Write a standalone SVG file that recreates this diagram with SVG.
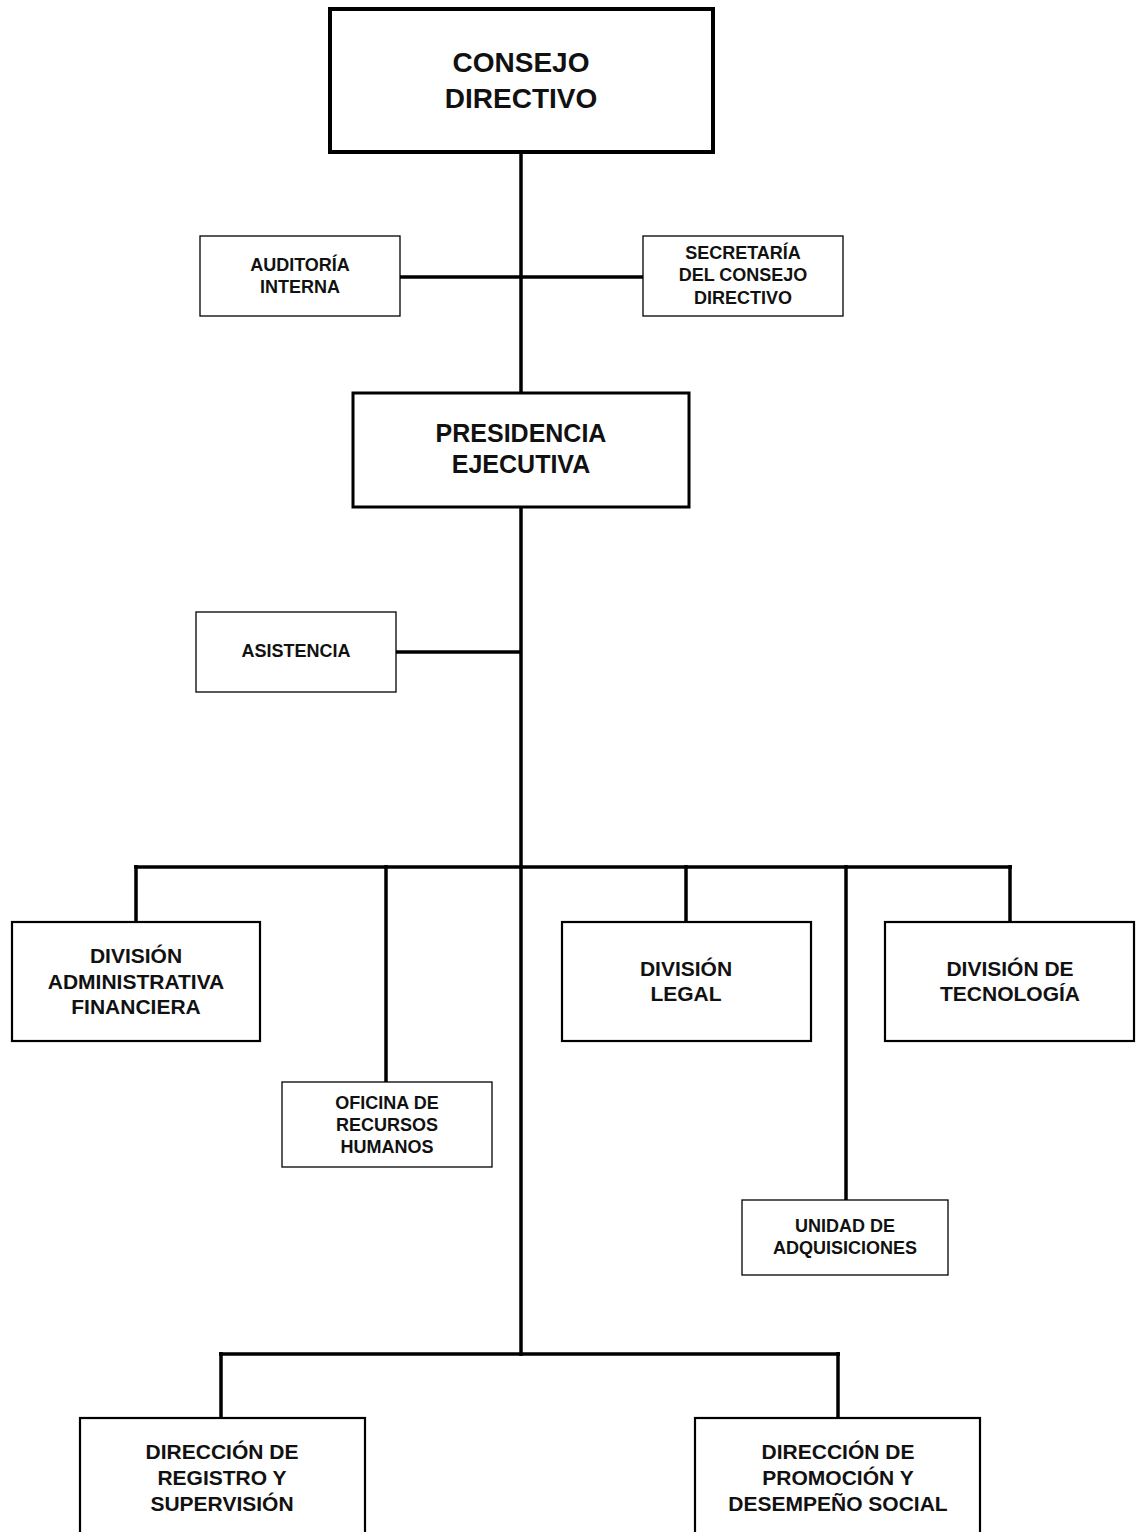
<svg xmlns="http://www.w3.org/2000/svg" width="1136" height="1532" viewBox="0 0 1136 1532">
<style>
  .box { fill: #fff; stroke: #000; }
  .b4 { stroke-width: 4; }
  .b3 { stroke-width: 3; }
  .b2 { stroke-width: 2.2; }
  .b1 { stroke-width: 1.3; }
  text { font-family: "Liberation Sans", Arial, sans-serif; font-weight: bold; text-anchor: middle; fill: #111; }
  .t28 { font-size: 28px; }
  .t25 { font-size: 25px; }
  .t21 { font-size: 21px; }
  .t18 { font-size: 18px; }
  .conn line { stroke: #000; stroke-width: 3.5; }
</style>
<rect width="1136" height="1532" fill="#fff"/>
<g class="conn" id="connectors">
  <line x1="521" y1="152" x2="521" y2="1356"/>
  <line x1="400" y1="277" x2="643" y2="277"/>
  <line x1="396" y1="652" x2="521" y2="652"/>
  <line x1="134" y1="867" x2="1012" y2="867"/>
  <line x1="136" y1="865" x2="136" y2="922"/>
  <line x1="386" y1="865" x2="386" y2="1082"/>
  <line x1="686" y1="865" x2="686" y2="922"/>
  <line x1="846" y1="865" x2="846" y2="1200"/>
  <line x1="1010" y1="865" x2="1010" y2="922"/>
  <line x1="219" y1="1354" x2="840" y2="1354"/>
  <line x1="221" y1="1352" x2="221" y2="1418"/>
  <line x1="838" y1="1352" x2="838" y2="1418"/>
</g>
<g id="consejo">
  <rect class="box b4" x="330" y="9" width="383" height="143"/>
  <text class="t28" x="521" y="72">CONSEJO</text>
  <text class="t28" x="521" y="108">DIRECTIVO</text>
</g>
<g id="auditoria">
  <rect class="box b1" x="200" y="236" width="200" height="80"/>
  <text class="t18" x="300" y="270.5">AUDITORÍA</text>
  <text class="t18" x="300" y="292.5">INTERNA</text>
</g>
<g id="secretaria">
  <rect class="box b1" x="643" y="236" width="200" height="80"/>
  <text class="t18" x="743" y="258.5">SECRETARÍA</text>
  <text class="t18" x="743" y="280.5">DEL CONSEJO</text>
  <text class="t18" x="743" y="303.5">DIRECTIVO</text>
</g>
<g id="presidencia">
  <rect class="box b3" x="353" y="393" width="336" height="114"/>
  <text class="t25" x="521" y="442">PRESIDENCIA</text>
  <text class="t25" x="521" y="473">EJECUTIVA</text>
</g>
<g id="asistencia">
  <rect class="box b1" x="196" y="612" width="200" height="80"/>
  <text class="t18" x="296" y="656.5">ASISTENCIA</text>
</g>
<g id="div-adm">
  <rect class="box b2" x="12" y="922" width="248" height="119"/>
  <text class="t21" x="136" y="962.5">DIVISIÓN</text>
  <text class="t21" x="136" y="988.5">ADMINISTRATIVA</text>
  <text class="t21" x="136" y="1013.5">FINANCIERA</text>
</g>
<g id="div-legal">
  <rect class="box b2" x="562" y="922" width="249" height="119"/>
  <text class="t21" x="686" y="975.5">DIVISIÓN</text>
  <text class="t21" x="686" y="1000.5">LEGAL</text>
</g>
<g id="div-tec">
  <rect class="box b2" x="885" y="922" width="249" height="119"/>
  <text class="t21" x="1010" y="975.5">DIVISIÓN DE</text>
  <text class="t21" x="1010" y="1000.5">TECNOLOGÍA</text>
</g>
<g id="oficina-rh">
  <rect class="box b1" x="282" y="1082" width="210" height="85"/>
  <text class="t18" x="387" y="1108.5">OFICINA DE</text>
  <text class="t18" x="387" y="1130.5">RECURSOS</text>
  <text class="t18" x="387" y="1152.5">HUMANOS</text>
</g>
<g id="unidad-adq">
  <rect class="box b1" x="742" y="1200" width="206" height="75"/>
  <text class="t18" x="845" y="1231.5">UNIDAD DE</text>
  <text class="t18" x="845" y="1253.5">ADQUISICIONES</text>
</g>
<g id="dir-registro">
  <rect class="box b2" x="80" y="1418" width="285" height="130"/>
  <text class="t21" x="222" y="1458.5">DIRECCIÓN DE</text>
  <text class="t21" x="222" y="1484.5">REGISTRO Y</text>
  <text class="t21" x="222" y="1510.5">SUPERVISIÓN</text>
</g>
<g id="dir-promocion">
  <rect class="box b2" x="695" y="1418" width="285" height="130"/>
  <text class="t21" x="838" y="1458.5">DIRECCIÓN DE</text>
  <text class="t21" x="838" y="1484.5">PROMOCIÓN Y</text>
  <text class="t21" x="838" y="1510.5">DESEMPEÑO SOCIAL</text>
</g>
</svg>
